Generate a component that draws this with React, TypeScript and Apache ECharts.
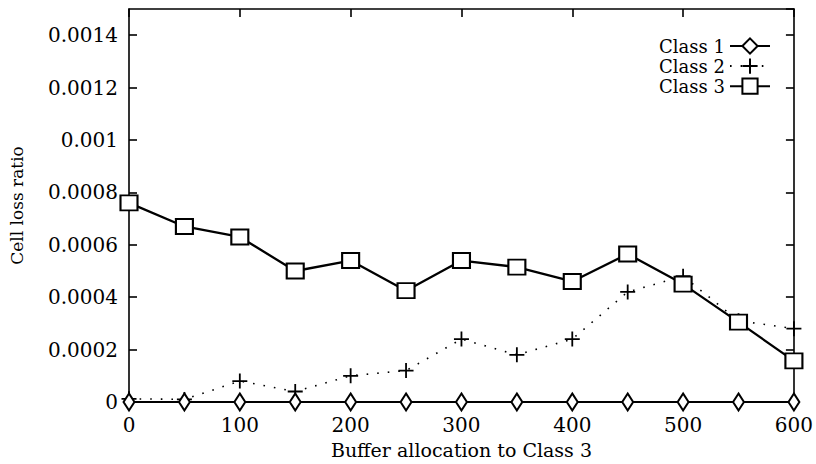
import React, { useEffect, useRef } from "react";
import * as echarts from "echarts";

const xValues = [0, 50, 100, 150, 200, 250, 300, 350, 400, 450, 500, 550, 600];
const class1 = [0, 0, 0, 0, 0, 0, 0, 0, 0, 0, 0, 0, 0];
const class2 = [0.000012, 0.00001, 0.00008, 0.00004, 0.0001, 0.00012, 0.00024, 0.00018, 0.00024, 0.00042, 0.00048, 0.00031, 0.00028];
const class3 = [0.00076, 0.00067, 0.00063, 0.0005, 0.00054, 0.000425, 0.00054, 0.000515, 0.00046, 0.000565, 0.00045, 0.000305, 0.000157];
const seriesNames = ["Class 1", "Class 2", "Class 3"];

const FONT = "DejaVu Serif";

export default function App() {
  const ref = useRef<HTMLDivElement>(null);
  useEffect(() => {
    if (!ref.current) return;
    const chart = echarts.init(ref.current, null, { renderer: "svg" });
    const pairs = (ys: number[]) => xValues.map((x, i) => [x, ys[i]]);
    const tickLabel = { fontFamily: FONT, fontSize: 20, color: "#000" };
    const line = { show: true, onZero: false, lineStyle: { color: "#000", width: 1.6 } };
    const tick = { show: true, inside: true, length: 8, lineStyle: { color: "#000", width: 1.6 } };
    chart.setOption({
      animation: false,
      backgroundColor: "#fff",
      grid: { left: 129, right: 20, top: 9, bottom: 61, show: false },
      legend: {
        orient: "vertical",
        right: 40,
        top: 32,
        align: "right",
        itemGap: 1,
        itemWidth: 40,
        itemHeight: 19,
        textStyle: { fontFamily: FONT, fontSize: 18, color: "#000" },
        data: seriesNames,
      },
      xAxis: [
        {
          type: "value", min: 0, max: 600, interval: 100,
          name: "Buffer allocation to Class 3", nameLocation: "middle", nameGap: 38,
          nameTextStyle: { fontFamily: FONT, fontSize: 19, color: "#000" },
          axisLine: line,
          axisTick: tick,
          axisLabel: { ...tickLabel, margin: 13 },
          splitLine: { show: false },
        },
        {
          type: "value", min: 0, max: 600, interval: 100, position: "top",
          axisLine: line,
          axisTick: tick,
          axisLabel: { show: false },
          splitLine: { show: false },
        },
      ],
      yAxis: [
        {
          type: "value", min: 0, max: 0.0015, interval: 0.0002,
          name: "Cell loss ratio", nameLocation: "middle", nameGap: 104,
          nameTextStyle: { fontFamily: FONT, fontSize: 17, color: "#000" },
          axisLine: line,
          axisTick: tick,
          axisLabel: { ...tickLabel, margin: 11, showMaxLabel: false, formatter: (v: number) => (v === 0 ? "0" : String(+v.toFixed(4))) },
          splitLine: { show: false },
        },
        {
          type: "value", min: 0, max: 0.0015, interval: 0.0002, position: "right",
          axisLine: line,
          axisTick: tick,
          axisLabel: { show: false },
          splitLine: { show: false },
        },
      ],
      series: [
        {
          name: seriesNames[0], type: "line", data: pairs(class1),
          symbol: "emptyDiamond", symbolSize: [11, 17],
          lineStyle: { color: "#000", width: 2 },
          itemStyle: { color: "#000", borderWidth: 1.5 },
          z: 3,
        },
        {
          name: seriesNames[1], type: "line", data: pairs(class2),
          symbol: "path://M0,5L10,5M5,0L5,10", symbolSize: 15, symbolKeepAspect: true,
          lineStyle: { color: "#000", width: 1.6, type: [1.6, 9] },
          itemStyle: { color: "none", borderColor: "#000", borderWidth: 1.8 },
          z: 2,
        },
        {
          name: seriesNames[2], type: "line", data: pairs(class3),
          symbol: "emptyRect", symbolSize: [17, 15],
          lineStyle: { color: "#000", width: 2.3 },
          itemStyle: { color: "#000", borderWidth: 1.8 },
          z: 4,
        },
      ],
    });
    return () => chart.dispose();
  }, []);
  return <div ref={ref} style={{ width: 816, height: 464, position: "absolute", left: 0, top: 0 }} />;
}
